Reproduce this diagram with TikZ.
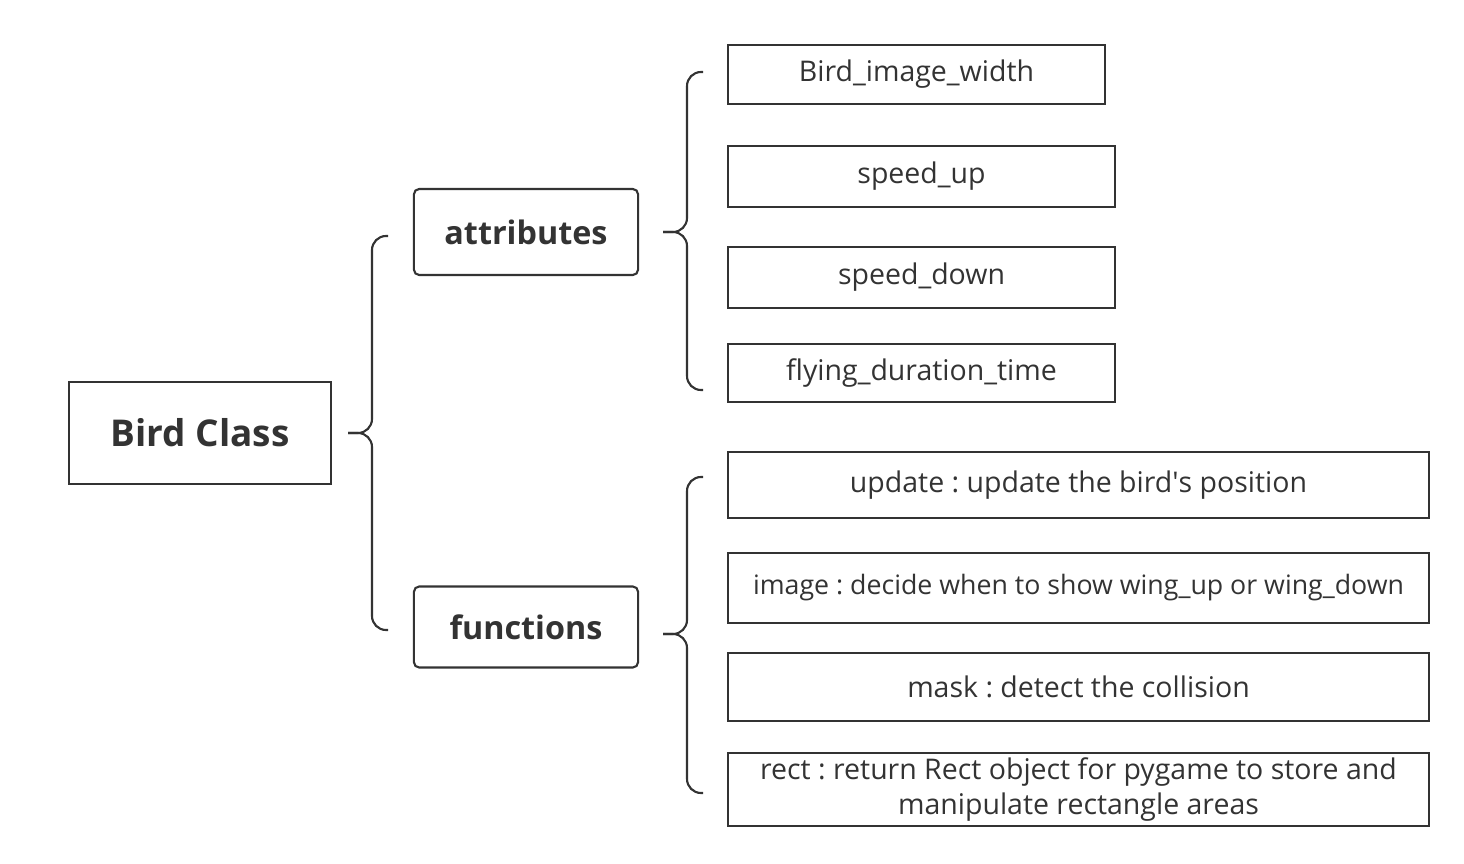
\documentclass[tikz,border=0pt]{standalone}
\usepackage{fontspec}
\setmainfont{Open Sans}
\definecolor{inkgray}{HTML}{333333}

\begin{document}
\frenchspacing
\begin{tikzpicture}
[
x=0.01cm,y=-0.01cm,
every node/.style={text=inkgray},
classbox/.style={draw=inkgray,line width=0.6pt,minimum width=2.62cm,minimum height=1.02cm,font=\fontsize{10.5}{12}\selectfont\bfseries},
groupbox/.style={draw=inkgray,line width=0.6pt,rounded corners=1.5pt,minimum width=2.24cm,font=\fontsize{9.2}{11}\selectfont\bfseries},
itembox/.style 2 args={draw=inkgray,line width=0.6pt,minimum width=#1,minimum height=#2,inner sep=0pt,font=\fontsize{8.1}{9.7}\selectfont},
curly/.style={draw=inkgray,line width=0.6pt,rounded corners=0.14cm},
]

\useasboundingbox (0,0) rectangle (1464,864);

%Place the nodes
\node[classbox] (bird) at (200,433) {Bird Class};
\node[groupbox,minimum height=0.86cm] (attr) at (526,232) {attributes};
\node[groupbox,minimum height=0.81cm] (func) at (526,627) {functions};

\node[itembox={3.77cm}{0.59cm}] (a1) at (916.5,74.5) {Bird\_image\_width};
\node[itembox={3.87cm}{0.61cm}] (a2) at (921.5,176.5) {speed\_up};
\node[itembox={3.87cm}{0.61cm}] (a3) at (921.5,277.5) {speed\_down};
\node[itembox={3.87cm}{0.58cm}] (a4) at (921.5,373) {flying\_duration\_time};

\node[itembox={7.01cm}{0.66cm}] (f1) at (1078.5,485) {update : update the bird\textquotesingle s position};
\node[itembox={7.01cm}{0.70cm},font=\fontsize{7.6}{9}\selectfont] (f2) at (1078.5,588) {image : decide when to show wing\_up or wing\_down};
\node[itembox={7.01cm}{0.68cm}] (f3) at (1078.5,687) {mask : detect the collision};
\node[itembox={7.01cm}{0.73cm},align=center] (f4) at (1078.5,789.5) {rect : return Rect object for pygame to store and\\manipulate rectangle areas};

%Brace tips and ends
\coordinate (t1) at (348,433);
\coordinate (b1top) at (388,236);
\coordinate (b1bot) at (388,630);
\coordinate (t2) at (663,232);
\coordinate (b2top) at (703,72);
\coordinate (b2bot) at (703,390);
\coordinate (t3) at (663,634);
\coordinate (b3top) at (703,477);
\coordinate (b3bot) at (703,793);

%Draw the connections
\draw[curly] (t1) -- ++(24,0) |- (b1top);
\draw[curly] (t1) -- ++(24,0) |- (b1bot);
\draw[curly] (t2) -- ++(24,0) |- (b2top);
\draw[curly] (t2) -- ++(24,0) |- (b2bot);
\draw[curly] (t3) -- ++(24,0) |- (b3top);
\draw[curly] (t3) -- ++(24,0) |- (b3bot);
\end{tikzpicture}
\end{document}
